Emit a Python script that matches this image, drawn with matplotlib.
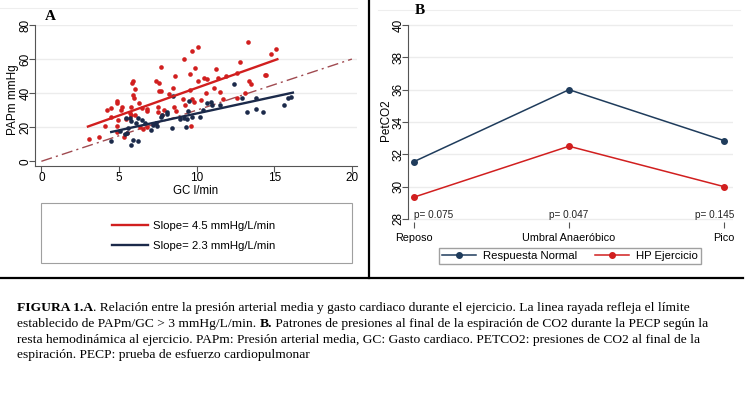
import numpy as np
import matplotlib
matplotlib.use('Agg')
import matplotlib.pyplot as plt
from matplotlib.lines import Line2D
from matplotlib.patches import Rectangle

# Panel A: GC (l/min) vs PAPm (mmHg)
red_x = [3.1, 3.7, 4.1, 4.2, 4.5, 4.5, 4.85, 4.9, 4.9, 4.9, 4.95, 5.1, 5.2, 5.3, 5.45,
         5.5, 5.7, 5.8, 5.8, 5.85, 5.9, 5.9, 5.95, 6.0, 6.0, 6.3, 6.35, 6.5, 6.55, 6.8,
         6.8, 6.8, 7.2, 7.4, 7.5, 7.5, 7.6, 7.6, 7.7, 7.7, 7.8, 7.9, 8.2, 8.5, 8.55,
         8.6, 8.7, 9.1, 9.2, 9.25, 9.6, 9.6, 9.65, 9.7, 9.7, 9.8, 9.9, 10.1, 10.1, 10.3,
         10.5, 10.6, 10.7, 11.1, 11.25, 11.4, 11.5, 11.7, 11.9, 12.6, 12.6, 12.8, 13.1,
         13.3, 13.35, 13.5, 14.4, 14.5, 14.8, 15.1]
red_y = [12.9, 14.2, 20.7, 30.1, 31.1, 26.2, 34.3, 35.2, 20.7, 17.2, 24.3, 30.1, 32.1,
         14.5, 24.9, 16.8, 28.2, 27.2, 32.1, 45.8, 47.2, 39.0, 37.0, 42.3, 27.2, 34.1,
         20.4, 31.3, 18.8, 30.7, 29.5, 20.4, 22.1, 47.2, 32.1, 29.0, 41.5, 45.8, 41.5,
         55.2, 27.2, 30.1, 39.6, 43.2, 31.7, 50.1, 29.5, 36.8, 60.3, 32.9, 41.9, 51.3,
         20.7, 65.0, 36.8, 35.0, 55.0, 47.2, 67.3, 36.0, 48.9, 40.3, 48.1, 42.9, 54.2,
         49.1, 40.9, 36.8, 49.9, 52.1, 37.2, 58.2, 40.3, 70.1, 47.0, 45.2, 50.9, 50.9,
         63.0, 65.9]
navy_x = [4.5, 5.05, 5.4, 5.45, 5.5, 5.6, 5.7, 5.8, 5.8, 5.9, 6.1, 6.2, 6.25, 6.5, 6.7,
          7.05, 7.2, 7.4, 7.45, 7.7, 7.8, 8.1, 8.1, 8.4, 8.5, 8.95, 9.2, 9.3, 9.35, 9.45,
          9.5, 9.7, 10.2, 10.4, 10.7, 10.9, 11.0, 11.5, 12.4, 12.95, 13.25, 13.8, 13.85,
          14.3, 15.6, 15.9, 16.1]
navy_y = [12.1, 17.8, 15.9, 25.3, 16.5, 19.8, 25.3, 9.6, 23.7, 12.5, 22.3, 25.3, 12.1,
          24.3, 22.7, 18.4, 21.3, 22.7, 20.7, 25.8, 27.2, 29.1, 27.8, 19.4, 38.4, 25.0,
          25.6, 20.2, 24.7, 29.5, 35.4, 26.2, 26.0, 30.1, 34.0, 35.0, 33.1, 33.1, 45.2,
          37.0, 29.1, 37.0, 30.9, 29.1, 33.1, 37.0, 38.0]

# fitted lines (end points)
red_fit_x = [3.0, 15.2]
red_fit_y = [20.4, 59.9]
navy_fit_x = [4.5, 16.2]
navy_fit_y = [17.2, 40.3]
limit_x = [0, 20]
limit_y = [0, 60]
slope_labels = ['Slope= 4.5 mmHg/L/min', 'Slope= 2.3 mmHg/L/min']

# Panel B: PetCO2
stages = ['Reposo', 'Umbral Anaeróbico', 'Pico']
normal = [31.55, 36.0, 32.85]
hp_ejercicio = [29.35, 32.5, 30.0]
p_values = ['p= 0.075', 'p= 0.047', 'p= 0.145']

RED = '#d11f1f'
NAVY = '#1b2a4a'
NAVY_B = '#1f3c5c'
GRID = '#ececec'

W, H = 750, 394
fig = plt.figure(figsize=(7.5, 3.94), dpi=100)
plt.rcParams['font.family'] = ['Liberation Sans', 'DejaVu Sans']


def box(l, t, r, b):
    return [l / W, 1 - b / H, (r - l) / W, (b - t) / H]


# ---- panel A ----
axa = fig.add_axes(box(35, 25, 357, 166))
axa.set_xlim(-0.41, 20.33)
axa.set_ylim(-2.76, 80)
for yv in [20, 40, 60, 80]:
    axa.axhline(yv, color=GRID, lw=1, zorder=0)
axa.plot(limit_x, limit_y, color='#a04a50', lw=1, ls=(0, (8, 3, 1.5, 3)), zorder=1)
axa.scatter(red_x, red_y, s=11, color=RED, lw=0, zorder=3)
axa.scatter(navy_x, navy_y, s=11, color=NAVY, lw=0, zorder=3)
la, = axa.plot(red_fit_x, red_fit_y, color=RED, lw=1.7, zorder=4)
lb, = axa.plot(navy_fit_x, navy_fit_y, color=NAVY, lw=1.7, zorder=4)
axa.set_xticks([0, 5, 10, 15, 20])
axa.set_yticks([0, 20, 40, 60, 80])
axa.tick_params(labelsize=8.5, length=4, width=0.8, color='#555555')
axa.tick_params(axis='x', pad=0)
axa.tick_params(axis='y', pad=-1.5)
for t in axa.get_yticklabels():
    t.set_rotation(90)
    t.set_va('center')
for s in ['top', 'right']:
    axa.spines[s].set_visible(False)
for s in ['left', 'bottom']:
    axa.spines[s].set_color('#555555')
    axa.spines[s].set_linewidth(0.8)
axa.set_xlabel('GC l/min', fontsize=8.3, va='center')
axa.set_ylabel('PAPm mmHg', fontsize=8.5, va='center')
axa.xaxis.set_label_coords((196 - 35) / 322, (166 - 191) / 141)
axa.yaxis.set_label_coords((13 - 35) / 322, (166 - 100) / 141)

# legend box for A
fig.patches.append(Rectangle((41 / W, 1 - 263 / H), (352 - 41) / W, 60 / H,
                             transform=fig.transFigure, fill=False,
                             edgecolor='#a0a0a0', lw=0.8))
fig.legend([la, lb], slope_labels, loc='center', bbox_to_anchor=(194 / W, 1 - 236 / H),
           frameon=False, fontsize=8.2, handlelength=3.1, labelspacing=0.8,
           handletextpad=0.5)

# ---- panel B ----
axb = fig.add_axes(box(408, 22, 733, 222))
axb.set_xlim(-0.039, 2.058)
axb.set_ylim(27.81, 40.19)
xs = np.arange(len(stages))
for yv in range(28, 41, 2):
    axb.axhline(yv, color=GRID, lw=1, zorder=0)
axb.plot(xs, normal, color=NAVY_B, lw=1.1, marker='o', ms=4, label='Respuesta Normal')
axb.plot(xs, hp_ejercicio, color=RED, lw=1.1, marker='o', ms=4, label='HP Ejercicio')
for i, (p, ha) in enumerate(zip(p_values, ['left', 'center', 'right'])):
    xp = {0: 0.0, 1: 1.0, 2: 2.065}[i]
    axb.text(xp, 28.25, p, ha=ha, va='center', fontsize=7.2, color='#222222')
axb.set_xticks(xs)
axb.set_xticklabels(stages)
axb.set_yticks(range(28, 41, 2))
axb.tick_params(axis='x', labelsize=7.8, length=4, width=0.8, color='#555555', pad=4)
axb.tick_params(axis='y', labelsize=8.5, length=4, width=0.8, color='#555555', pad=-1.5)
for t in axb.get_yticklabels():
    t.set_rotation(90)
    t.set_va('center')
for s in ['top', 'right', 'bottom']:
    axb.spines[s].set_visible(False)
axb.spines['left'].set_bounds(28, 40)
axb.spines['left'].set_color('#555555')
axb.spines['left'].set_linewidth(0.8)
axb.set_ylabel('PetCO2', fontsize=8.5, va='center')
axb.yaxis.set_label_coords((386 - 408) / 325, (222 - 120) / 200)
fig.legend(*axb.get_legend_handles_labels(), loc='upper center', ncol=2,
           bbox_to_anchor=(570 / W, 1 - 248 / H), fontsize=8.2, frameon=True,
           fancybox=False, edgecolor='#a0a0a0', framealpha=1, borderpad=0.25,
           handlelength=3.0, columnspacing=1.6, handletextpad=0.6, borderaxespad=0)

# panel titles
fig.text(50 / W, 1 - 16 / H, 'A', fontsize=11, fontweight='bold',
         family='Liberation Serif', ha='center', va='center')
fig.text(420 / W, 1 - 11 / H, 'B', fontsize=11, fontweight='bold',
         family='Liberation Serif', ha='center', va='center')

# frame lines
fig.add_artist(Line2D([0, 743 / W], [1 - 278 / H] * 2, color='black', lw=1.6))
fig.add_artist(Line2D([369 / W] * 2, [1, 1 - 278 / H], color='black', lw=1.6))
fig.add_artist(Line2D([0, 357 / W], [1 - 8 / H] * 2, color='#eeeeee', lw=0.8))
fig.add_artist(Line2D([378 / W, 740 / W], [1 - 10 / H] * 2, color='#eeeeee', lw=0.8))

# caption
cap = fig.add_axes([0, 0, 1, 1])
cap.axis('off')
cap.set_zorder(-1)
lines = [
    [('FIGURA 1.A', True), ('. Relación entre la presión arterial media y gasto cardiaco durante el ejercicio. '
                            'La linea rayada refleja el límite', False)],
    [('establecido de PAPm/GC > 3 mmHg/L/min. ', False), ('B.', True),
     (' Patrones de presiones al final de la espiración de CO2 durante la PECP según la', False)],
    [('resta hemodinámica al ejercicio. PAPm: Presión arterial media, GC: Gasto cardiaco. '
      'PETCO2: presiones de CO2 al final de la', False)],
    [('espiración. PECP: prueba de esfuerzo cardiopulmonar', False)],
]
base_y = [311, 327, 343, 358]
for yb, parts in zip(base_y, lines):
    prev = None
    for txt, bold in parts:
        kw = dict(fontsize=9.7, family='Liberation Serif',
                  fontweight='bold' if bold else 'normal', va='bottom', ha='left')
        if prev is None:
            prev = cap.text(17 / W, 1 - (yb + 3) / H, txt, **kw)
        else:
            prev = cap.annotate(txt, xy=(1, 0), xycoords=prev, **kw)

fig.savefig('out.png', dpi=100)
